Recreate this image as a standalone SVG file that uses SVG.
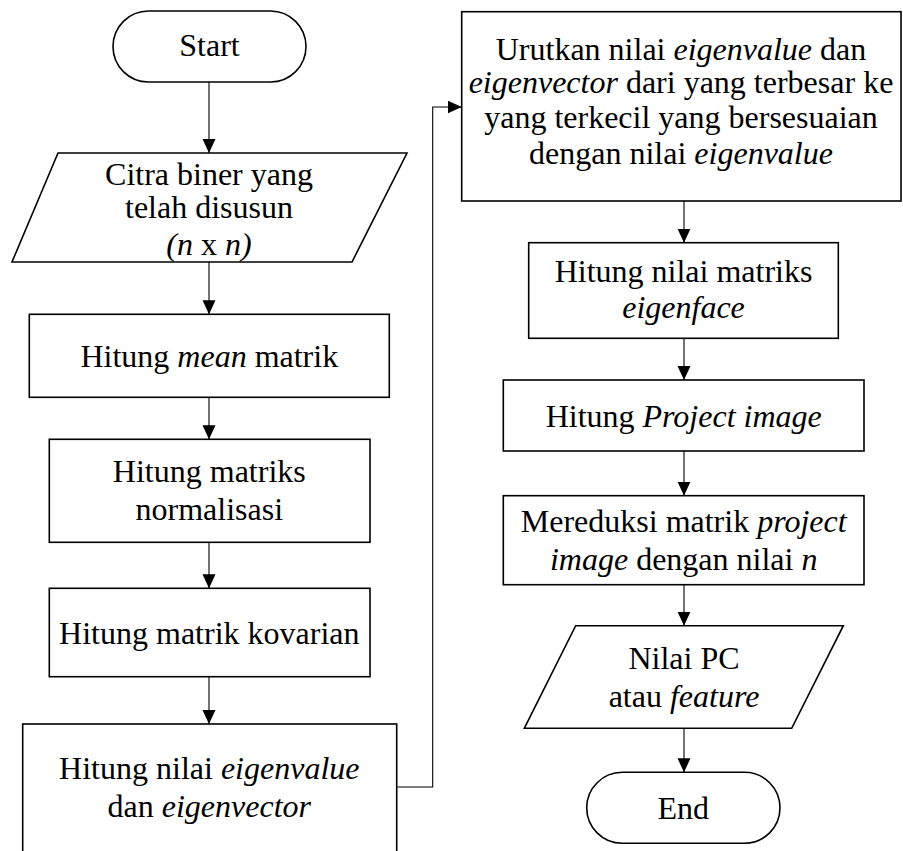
<svg xmlns="http://www.w3.org/2000/svg" width="903" height="851" viewBox="0 0 903 851">
<style>
.s{fill:#fff;stroke:#000;stroke-width:1.6}
.c{fill:none;stroke:#000;stroke-width:1.1}
text{font-family:'Liberation Serif','Times New Roman',serif;font-size:32px;fill:#000;text-anchor:middle}
.i{font-style:italic}
</style>
<defs>
<marker id="ah" markerUnits="userSpaceOnUse" markerWidth="14" markerHeight="14" refX="14" refY="7" orient="auto">
<path d="M0,0.5 L14,7 L0,13.5 z" fill="#000"/>
</marker>
</defs>
<rect width="903" height="851" fill="#fff"/>
<g id="connectors">
<line class="c" x1="209" y1="82" x2="209" y2="153" marker-end="url(#ah)"/>
<line class="c" x1="209" y1="262" x2="209" y2="314.3" marker-end="url(#ah)"/>
<line class="c" x1="209" y1="397.3" x2="209" y2="439.3" marker-end="url(#ah)"/>
<line class="c" x1="209" y1="542.3" x2="209" y2="588.3" marker-end="url(#ah)"/>
<line class="c" x1="209" y1="676.7" x2="209" y2="724" marker-end="url(#ah)"/>
<path class="c" d="M396.7,787 H432.7 V107 H461.7" marker-end="url(#ah)"/>
<line class="c" x1="684" y1="201" x2="684" y2="242.7" marker-end="url(#ah)"/>
<line class="c" x1="684" y1="338.3" x2="684" y2="380" marker-end="url(#ah)"/>
<line class="c" x1="684" y1="451" x2="684" y2="495.7" marker-end="url(#ah)"/>
<line class="c" x1="684" y1="584.7" x2="684" y2="625.7" marker-end="url(#ah)"/>
<line class="c" x1="684" y1="728.3" x2="684" y2="772.3" marker-end="url(#ah)"/>
</g>
<g id="start">
<rect class="s" x="113" y="11" width="193" height="71" rx="35.5"/>
<text x="209.5" y="56">Start</text>
</g>
<g id="input">
<polygon class="s" points="58,153 407,153 352,262 12,262"/>
<text x="209" y="185">Citra biner yang</text>
<text x="209" y="218">telah disusun</text>
<text x="209" y="255"><tspan class="i">(n</tspan> x <tspan class="i">n)</tspan></text>
</g>
<g id="mean">
<rect class="s" x="29.3" y="314.3" width="360" height="83"/>
<text x="209.3" y="367.3">Hitung <tspan class="i">mean</tspan> matrik</text>
</g>
<g id="normalisasi">
<rect class="s" x="49.3" y="439.3" width="320.7" height="103"/>
<text x="209.3" y="482.3">Hitung matriks</text>
<text x="209.3" y="520">normalisasi</text>
</g>
<g id="kovarian">
<rect class="s" x="49.3" y="588.3" width="320.7" height="88.4"/>
<text x="209.3" y="644.3">Hitung matrik kovarian</text>
</g>
<g id="eigen">
<rect class="s" x="22.7" y="724" width="374" height="130"/>
<text x="209.3" y="779">Hitung nilai <tspan class="i">eigenvalue</tspan></text>
<text x="209.3" y="816.7">dan <tspan class="i">eigenvector</tspan></text>
</g>
<g id="urutkan">
<rect class="s" x="461.7" y="11.7" width="439.3" height="189.3"/>
<text x="681" y="60">Urutkan nilai <tspan class="i">eigenvalue</tspan> dan</text>
<text x="681" y="93"><tspan class="i">eigenvector</tspan> dari yang terbesar ke</text>
<text x="681" y="128">yang terkecil yang bersesuaian</text>
<text x="681" y="164">dengan nilai <tspan class="i">eigenvalue</tspan></text>
</g>
<g id="eigenface">
<rect class="s" x="528.7" y="242.7" width="309.6" height="95.6"/>
<text x="683.5" y="281.7">Hitung nilai matriks</text>
<text x="683.5" y="318.3" class="i">eigenface</text>
</g>
<g id="project">
<rect class="s" x="503.3" y="380" width="360.7" height="71"/>
<text x="683.7" y="426.7">Hitung <tspan class="i">Project image</tspan></text>
</g>
<g id="reduksi">
<rect class="s" x="503.3" y="495.7" width="360.7" height="89"/>
<text x="683.7" y="531.7">Mereduksi matrik <tspan class="i">project</tspan></text>
<text x="683.7" y="570"><tspan class="i">image</tspan> dengan nilai <tspan class="i">n</tspan></text>
</g>
<g id="output">
<polygon class="s" points="575.7,625.7 843.3,625.7 791.7,728.3 524.3,728.3"/>
<text x="684" y="669.3">Nilai PC</text>
<text x="684" y="706.7">atau <tspan class="i">feature</tspan></text>
</g>
<g id="end">
<rect class="s" x="586.7" y="772.3" width="193.3" height="71" rx="35.5"/>
<text x="683.3" y="819.3">End</text>
</g>
</svg>
